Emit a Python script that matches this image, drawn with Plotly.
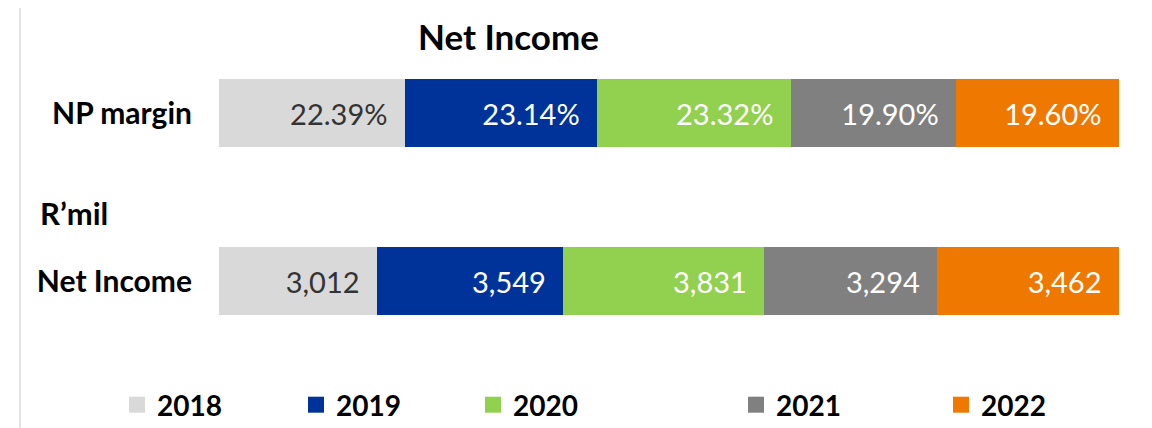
import plotly.graph_objects as go

years = ["2018", "2019", "2020", "2021", "2022"]
rows = ["Net Income", "NP margin"]
net_income = [3012, 3549, 3831, 3294, 3462]
np_margin = [22.39, 23.14, 23.32, 19.90, 19.60]
colors = ["#d9d9d9", "#003399", "#92d050", "#808080", "#ef7800"]
text_colors = ["#333333", "white", "white", "white", "white"]
legend_x = [131, 310, 487, 750, 955]

FONT = "Lato"
OFF = 8  # page body margin
W, H = 1144, 420
L, R, T, B = 211, 33, 21, 63
pw, ph = W - L - R, H - T - B
PAD = "\u2002"  # a bit of room before the segment end, like Excel


# helpers: screen pixel -> paper coords
def px_x(x):
    return (x - OFF - L) / pw


def px_y(y):
    return 1 + (T - (y - OFF)) / ph


fig = go.Figure()
for i, yr in enumerate(years):
    fig.add_trace(go.Bar(
        y=rows, x=[net_income[i], np_margin[i]], orientation="h",
        marker=dict(color=colors[i], line=dict(width=0)),
        text=["{:,}".format(net_income[i]) + PAD, "{:.2f}%".format(np_margin[i]) + PAD],
        textposition="inside", insidetextanchor="end",
        textfont=dict(family=FONT, size=29, color=text_colors[i]),
        showlegend=False, hoverinfo="skip",
    ))
    # legend swatch
    fig.add_trace(go.Scatter(
        x=[None], y=[None], mode="markers", name=yr,
        marker=dict(symbol="square", size=16, color=colors[i]),
        legend="legend" if i == 0 else "legend%d" % (i + 1),
    ))

legends = {}
for i in range(5):
    key = "legend" if i == 0 else "legend%d" % (i + 1)
    legends[key] = dict(
        x=px_x(legend_x[i] - 14), y=px_y(405), xanchor="left", yanchor="middle",
        orientation="h", bgcolor="rgba(0,0,0,0)", itemwidth=30,
        font=dict(family=FONT, size=28, color="black", weight="bold"),
    )

fig.update_layout(
    width=W, height=H,
    margin=dict(l=L, r=R, t=T, b=B, autoexpand=False),
    plot_bgcolor="white", paper_bgcolor="white",
    barmode="stack", barnorm="percent", bargap=0.595,
    xaxis=dict(visible=False, range=[0, 100]),
    yaxis=dict(categoryorder="array", categoryarray=rows, ticks="", showline=False,
               showgrid=False, ticklabelstandoff=26,
               tickfont=dict(family=FONT, size=30, color="black", weight="bold")),
    font=dict(family=FONT),
    **legends,
)

fig.add_annotation(text="Net Income", x=px_x(508), y=px_y(36), xref="paper", yref="paper",
                   showarrow=False, xanchor="center", yanchor="middle",
                   font=dict(family=FONT, size=35, color="black", weight="bold"))
fig.add_annotation(text="R\u2019mil", x=px_x(38), y=px_y(213), xref="paper", yref="paper",
                   showarrow=False, xanchor="left", yanchor="middle",
                   font=dict(family=FONT, size=31, color="black", weight="bold"))

fig.add_shape(type="rect", xref="paper", yref="paper",
              x0=px_x(20), x1=px_x(1147), y0=px_y(470), y1=px_y(7),
              line=dict(color="#d9d9d9", width=1.5), layer="below")

fig.write_html("out.html")
